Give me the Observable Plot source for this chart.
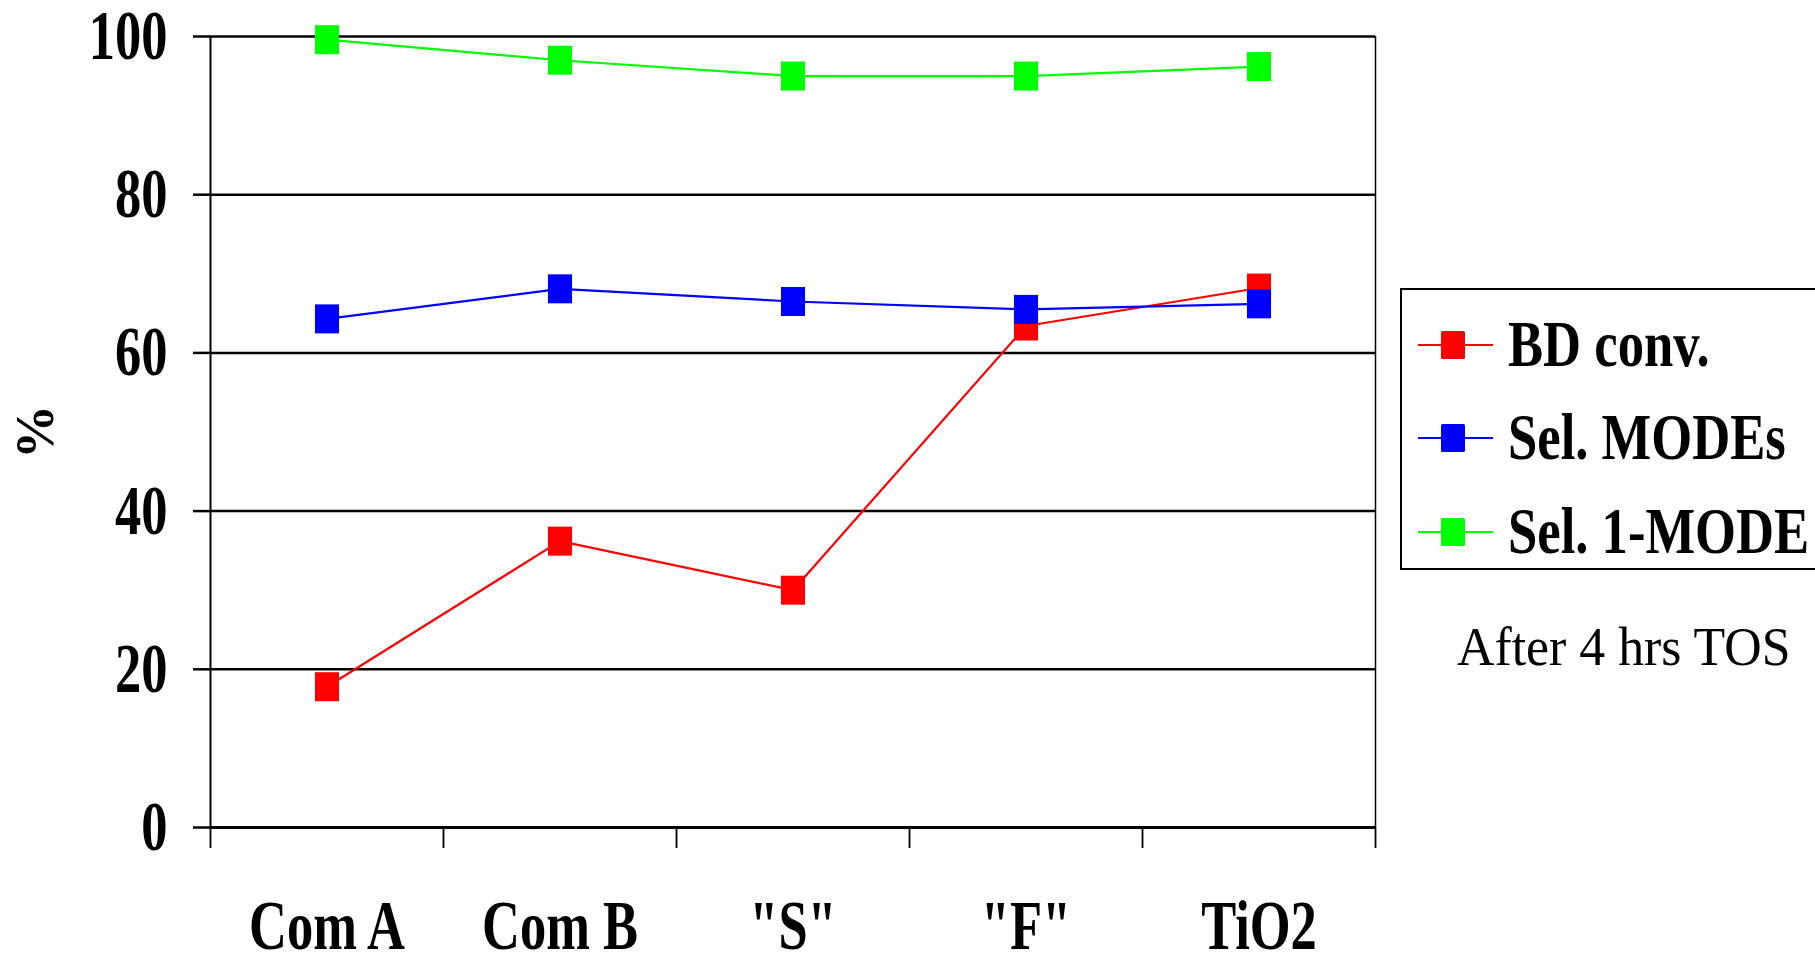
<!DOCTYPE html>
<html><head><meta charset="utf-8">
<script src="https://cdn.jsdelivr.net/npm/d3@7"></script>
<script src="https://cdn.jsdelivr.net/npm/@observablehq/plot@0.6"></script>
<style>
html,body{margin:0;padding:0;background:#fff;overflow:hidden;width:1815px;height:953px;}
#wrap{position:relative;width:1815px;height:953px;}
#wrap svg{position:absolute;left:0;top:0;}
</style></head><body><div id="wrap"></div>
<script>
// ---- data ----
const categories = ["Com A", "Com B", "\"S\"", "\"F\"", "TiO2"];
const bdConv   = [17.8, 36.2, 30.0, 63.4, 68.2];
const selMODEs = [64.3, 68.1, 66.5, 65.5, 66.2];
const sel1MODE = [99.6, 97.0, 95.0, 95.0, 96.2];
const seriesNames = ["BD conv.", "Sel. MODEs", "Sel. 1-MODE"];
const seriesValues = [bdConv, selMODEs, sel1MODE];
const yTicks = [0, 20, 40, 60, 80, 100];
const gridTicks = [20, 40, 60, 80, 100];
const yLabel = "%";
const note = "After 4 hrs TOS";

// ---- styles ----
const colors = ["#FF0000", "#0000FF", "#00FF00"];
const FONT = "'Liberation Serif','Times New Roman',serif";

const rows = seriesNames.flatMap((s, k) =>
  categories.map((c, i) => ({series: s, k, cat: c, idx: i, value: seriesValues[k][i]})));

const rectSymbol = {
  draw(ctx, size) {
    const r = Math.sqrt(size / Math.PI);
    const hw = r * 0.83, hh = r;
    ctx.moveTo(-hw, -hh); ctx.lineTo(hw, -hh); ctx.lineTo(hw, hh); ctx.lineTo(-hw, hh); ctx.closePath();
  }
};

const xc = d => d.idx + 0.5;

const seriesMarks = seriesNames.flatMap((s, k) => {
  const data = rows.filter(d => d.k === k);
  return [
    Plot.line(data, {x: xc, y: "value", stroke: colors[k], strokeWidth: 2.2}),
    Plot.dot(data, {x: xc, y: "value", fill: colors[k], stroke: "none", r: 14.5, symbol: rectSymbol})
  ];
});

const chart = Plot.plot({
  width: 1815,
  height: 953,
  marginLeft: 210,
  marginRight: 440,
  marginTop: 36,
  marginBottom: 126,
  style: {fontFamily: FONT, background: "transparent", color: "#000"},
  x: {type: "linear", domain: [0, categories.length], label: null},
  y: {domain: [0, 100], label: null},
  marks: [
    Plot.gridY(gridTicks, {stroke: "#000", strokeOpacity: 1, strokeWidth: 2.5}),
    Plot.ruleX([0], {y1: 0, y2: 100, stroke: "#000", strokeWidth: 2}),
    Plot.ruleX([categories.length], {y1: 0, y2: 100, stroke: "#000", strokeWidth: 1.5}),
    Plot.axisY(yTicks, {tickSize: 17, tickPadding: 26, fontSize: 70, fontWeight: "bold", strokeWidth: 2.5, label: null}),
    Plot.axisX(d3.range(categories.length + 1), {tickSize: 21, tickFormat: () => "", strokeWidth: 1.8, label: null}),
    Plot.axisX(categories.map((_, i) => i + 0.5), {tickSize: 0, tickPadding: 72, tickFormat: v => categories[Math.floor(v)], fontSize: 70, fontWeight: "bold", label: null}),
    Plot.ruleY([0], {stroke: "#000", strokeWidth: 3}),
    Plot.text([yLabel], {text: d => d, frameAnchor: "left", dx: -175, dy: 27, rotate: -90, fontSize: 54, fontWeight: "bold"}),
    ...seriesMarks
  ]
});

// horizontally condense the bold tick labels (narrow Times look)
chart.querySelectorAll("text").forEach(t => {
  if (t.textContent === yLabel || t.textContent === "") return;
  const tr = t.getAttribute("transform") || "";
  t.setAttribute("transform", `${tr} scale(0.75,1)`);
});

document.getElementById("wrap").appendChild(chart);

// ---- legend & note overlay ----
const ov = d3.select("#wrap").append("svg")
  .attr("width", 1815).attr("height", 953)
  .style("font-family", FONT);
ov.append("rect").attr("x", 1401).attr("y", 289).attr("width", 500).attr("height", 280)
  .attr("fill", "none").attr("stroke", "#000").attr("stroke-width", 2);
const rowY = [345, 438, 532];
seriesNames.forEach((s, k) => {
  const y = rowY[k];
  ov.append("line").attr("x1", 1418).attr("x2", 1493).attr("y1", y).attr("y2", y)
    .attr("stroke", colors[k]).attr("stroke-width", 2);
  ov.append("rect").attr("x", 1441).attr("y", y - 14).attr("width", 24).attr("height", 28)
    .attr("rx", 1.5).attr("fill", colors[k]);
  ov.append("text").attr("transform", `translate(1508,${y + 21}) scale(0.81,1)`)
    .attr("font-size", 65).attr("font-weight", "bold").text(s);
});
ov.append("text").attr("transform", "translate(1457,665) scale(0.96,1)")
  .attr("font-size", 54).text(note);
</script>
</body></html>
